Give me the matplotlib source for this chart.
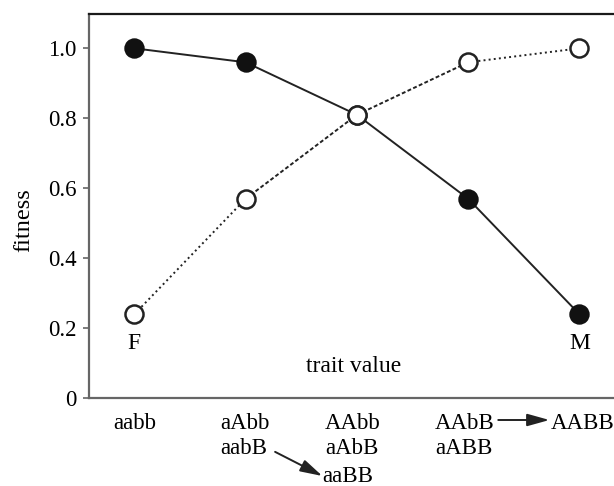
import matplotlib
matplotlib.use('Agg')
import matplotlib.pyplot as plt

plt.rcParams['font.family'] = ['Liberation Serif', 'DejaVu Serif']

trait = [1, 2, 3, 4, 5]
fitness_female = [1.0, 0.96, 0.81, 0.57, 0.24]   # filled circles, solid line
fitness_male = [0.24, 0.57, 0.81, 0.96, 1.0]     # open circles, dotted line
yticks = [0, 0.2, 0.4, 0.6, 0.8, 1.0]
ytick_labels = ['0', '0.2', '0.4', '0.6', '0.8', '1.0']

# genotype labels under the axis: (x, row, text, alignment)
genotypes = [
    (1.0, 0, 'aabb', 'center'),
    (1.773, 0, 'aAbb', 'left'),
    (1.773, 1, 'aabB', 'left'),
    (2.714, 0, 'AAbb', 'left'),
    (2.714, 1, 'aAbB', 'left'),
    (2.69, 2, 'aaBB', 'left'),
    (3.704, 0, 'AAbB', 'left'),
    (3.704, 1, 'aABB', 'left'),
    (4.74, 0, 'AABB', 'left'),
]
row_y = [-0.088, -0.160, -0.240]

fs = 16.5

fig = plt.figure(figsize=(6.14, 4.86), dpi=100)
ax = fig.add_axes([89 / 614, 87.7 / 486, 1 - 89 / 614, 384.3 / 486])

ink = '#222222'

# open series: sparse dots on the outer segments, denser on the inner ones
for i in range(len(trait) - 1):
    ls = ':' if i in (0, 3) else (0, (2, 1.2))
    ax.plot(trait[i:i + 2], fitness_male[i:i + 2], color=ink, lw=1.4, ls=ls)

ax.plot(trait, fitness_female, color=ink, lw=1.4, ls='-')
ax.plot(trait, fitness_female, 'o', ms=13.5, mfc='#111111', mec='#111111', mew=1.2)
ax.plot(trait, fitness_male, 'o', ms=13, mfc='white', mec=ink, mew=1.8)

ax.set_xlim(0.593, 5.31)
ax.set_ylim(0, 1.098)
ax.set_xticks([])
ax.set_yticks(yticks)
ax.set_yticklabels(ytick_labels, fontsize=fs)
ax.tick_params(axis='y', length=4, width=1.2, color='#666666', pad=5)
fig.text(24 / 614, 1 - 220 / 486, 'fitness', rotation=90, ha='center',
         va='center', fontsize=17.5)

ax.spines['right'].set_visible(False)
ax.spines['top'].set_color('#1a1a1a')
ax.spines['top'].set_linewidth(1.6)
for s in ('left', 'bottom'):
    ax.spines[s].set_color('#666666')
    ax.spines[s].set_linewidth(1.6)

ax.text(trait[0], 0.156, 'F', ha='center', va='center', fontsize=17)
ax.text(trait[-1], 0.156, 'M', ha='center', va='center', fontsize=17)
ax.text(2.97, 0.09, 'trait value', ha='center', va='center', fontsize=17)

for x, row, label, ha in genotypes:
    ax.text(x, row_y[row], label, ha=ha, va='baseline', fontsize=fs,
            clip_on=False)

arrow = dict(arrowstyle='-|>,head_length=0.9,head_width=0.25', color=ink, lw=1.4,
             shrinkA=0, shrinkB=0, mutation_scale=15)
ax.annotate('', xy=(4.73, -0.062), xytext=(4.27, -0.062), arrowprops=arrow,
            annotation_clip=False)
ax.annotate('', xy=(2.69, -0.222), xytext=(2.265, -0.153), arrowprops=arrow,
            annotation_clip=False)

fig.savefig('out.png', dpi=100)
